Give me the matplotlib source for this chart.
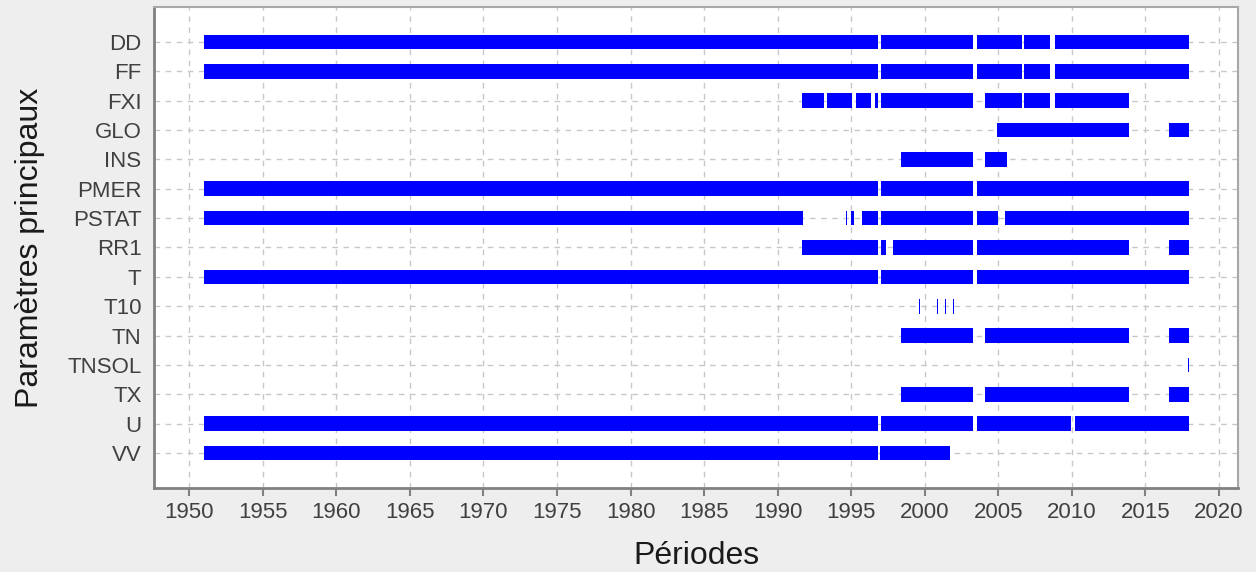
import matplotlib
matplotlib.use("Agg")
import matplotlib.pyplot as plt

plt.rcParams['font.family'] = ['Liberation Sans', 'DejaVu Sans']

# parameters, top to bottom
params = ['DD', 'FF', 'FXI', 'GLO', 'INS', 'PMER', 'PSTAT', 'RR1', 'T',
          'T10', 'TN', 'TNSOL', 'TX', 'U', 'VV']

# availability periods (start year, end year)
per_DD = [(1951.0, 1996.8), (1997.0, 2003.3), (2003.55, 2006.6), (2006.75, 2008.5), (2008.85, 2018.0)]
per_FF = [(1951.0, 1996.8), (1997.0, 2003.3), (2003.55, 2006.6), (2006.75, 2008.5), (2008.85, 2018.0)]
per_FXI = [(1991.65, 1993.15), (1993.35, 1995.05), (1995.3, 1996.35), (1996.6, 1996.8),
           (1997.0, 2003.3), (2004.1, 2006.6), (2006.75, 2008.5), (2008.85, 2013.9)]
per_GLO = [(2004.9, 2013.9), (2016.6, 2018.0)]
per_INS = [(1998.4, 2003.3), (2004.1, 2005.6)]
per_PMER = [(1951.0, 1996.8), (1997.0, 2003.3), (2003.55, 2018.0)]
per_PSTAT = [(1951.0, 1991.7), (1994.64, 1994.7), (1995.0, 1995.2), (1995.75, 1996.8),
             (1997.0, 2003.3), (2003.55, 2005.0), (2005.45, 2018.0)]
per_RR1 = [(1991.65, 1996.8), (1997.0, 1997.35), (1997.85, 2003.3), (2003.55, 2013.9), (2016.6, 2018.0)]
per_T = [(1951.0, 1996.8), (1997.0, 2003.3), (2003.55, 2018.0)]
per_T10 = [(1999.63, 1999.7), (2000.85, 2000.92), (2001.4, 2001.47), (2001.92, 2001.99)]
per_TN = [(1998.4, 2003.3), (2004.1, 2013.9), (2016.6, 2018.0)]
per_TNSOL = [(2017.88, 2017.95)]
per_TX = [(1998.4, 2003.3), (2004.1, 2013.9), (2016.6, 2018.0)]
per_U = [(1951.0, 1996.8), (1997.0, 2003.3), (2003.55, 2009.95), (2010.2, 2018.0)]
per_VV = [(1951.0, 1996.8), (1996.95, 2001.7)]

periods = [per_DD, per_FF, per_FXI, per_GLO, per_INS, per_PMER, per_PSTAT, per_RR1,
           per_T, per_T10, per_TN, per_TNSOL, per_TX, per_U, per_VV]

years = list(range(1950, 2021, 5))

fig = plt.figure(figsize=(12.56, 5.72), dpi=100, facecolor='#eeeeee')
ax = fig.add_axes([154 / 1256, 1 - 488 / 572, (1238 - 154) / 1256, (488 - 7) / 572])
ax.set_facecolor('white')

for i, segs in enumerate(periods):
    lefts = [s for s, e in segs]
    widths = [e - s for s, e in segs]
    ax.barh([i] * len(segs), widths, left=lefts, height=0.5, color='#0000ff', linewidth=0, zorder=3)

ax.set_xlim(1947.6, 2021.3)
ax.set_ylim(15.19, -1.19)
ax.set_xticks(years)
ax.set_yticks(range(len(params)))
ax.set_yticklabels(params)

ax.grid(True, linestyle=(0, (4, 4)), color='#c8c8c8', linewidth=1.0, zorder=0)
ax.tick_params(axis='x', direction='out', length=6, width=1.5, color='#808080',
               labelsize=16, labelcolor='#404040', pad=4)
ax.tick_params(axis='y', length=0, labelsize=16, labelcolor='#404040', pad=9)

for side in ['left', 'bottom']:
    ax.spines[side].set_color('#808080')
    ax.spines[side].set_linewidth(2)
for side in ['top', 'right']:
    ax.spines[side].set_color('#a8a8a8')
    ax.spines[side].set_linewidth(1.5)

ax.set_xlabel('Périodes', fontsize=23, color='#1a1a1a', labelpad=13)
ax.set_ylabel('Paramètres principaux', fontsize=23, color='#1a1a1a', labelpad=16)

plt.savefig('out.png', dpi=100, facecolor=fig.get_facecolor())
